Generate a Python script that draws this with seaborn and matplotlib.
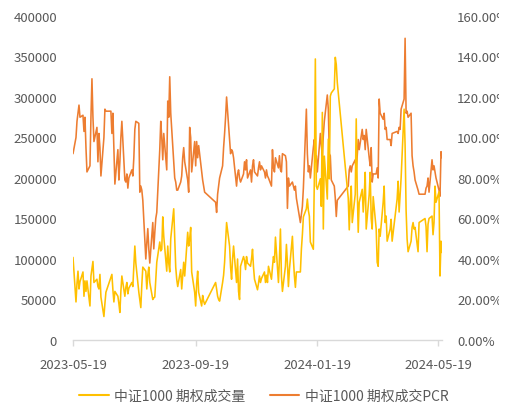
import numpy as np
import pandas as pd
import matplotlib
matplotlib.use("Agg")
import matplotlib.pyplot as plt
import matplotlib.dates as mdates
from matplotlib.ticker import FuncFormatter, MultipleLocator
from matplotlib.patches import Rectangle
from matplotlib.lines import Line2D
import seaborn as sns

# Exchange holidays inside the plotted window (weekdays with no trading)
holidays = [
    "2023-06-22", "2023-06-23",
    "2023-09-29", "2023-10-02", "2023-10-03", "2023-10-04", "2023-10-05", "2023-10-06",
    "2024-01-01",
    "2024-02-09", "2024-02-12", "2024-02-13", "2024-02-14", "2024-02-15", "2024-02-16",
    "2024-04-04", "2024-04-05",
    "2024-05-01", "2024-05-02", "2024-05-03",
]
start_date = "2023-05-19"
end_date = "2024-05-23"

# CSI 1000 option daily volume (contracts)
volume = [
    # 2023-05
    102000, 47000, 70000, 85000, 63000, 72000, 84000, 54000, 73000,
    # 2023-06
    60000, 73000, 42000, 79000, 88000, 97000, 71000, 75000, 66000, 63000,
    81000, 53000, 29000, 45000, 59000, 77000, 81000, 62000, 47000, 60000,
    # 2023-07
    54000, 45000, 34000, 60000, 79000, 54000, 65000, 71000, 57000, 64000,
    71000, 66000, 90000, 116000, 95000, 59000, 50000, 40000, 68000, 90000, 85000,
    # 2023-08
    63000, 80000, 90000, 71000, 50000, 52000, 53000, 75000, 96000, 121000,
    110000, 112000, 152000, 128000, 85000, 116000, 95000, 84000, 125000, 162000,
    124000, 90000, 75000,
    # 2023-09
    66000, 87000, 63000, 80000, 96000, 79000, 133000, 116000, 125000, 139000,
    84000, 59000, 42000, 70000, 85000, 59000, 42000, 55000, 48000, 44000,
    # 2023-10
    71000, 63000, 54000, 50000, 48000, 71000, 80000, 96000, 120000, 145000,
    116000, 90000, 75000, 100000, 116000, 71000, 100000,
    # 2023-11
    60000, 50000, 91000, 103000, 98000, 87000, 103000, 95000, 91000, 100000,
    112000, 90000, 75000, 62000, 70000, 79000, 71000, 76000, 84000, 71000, 80000, 71000,
    # 2023-12
    91000, 75000, 90000, 103000, 96000, 127000, 71000, 100000, 137000, 79000,
    60000, 91000, 118000, 95000, 66000, 87000, 128000, 100000, 79000, 65000, 84000,
    # 2024-01
    84000, 112000, 130000, 152000, 162000, 174000, 160000, 153000, 121000, 112000,
    200000, 347000, 190000, 186000, 199000, 165000, 281000, 137000, 227000, 174000,
    248000, 199000,
    # 2024-02
    301000, 305000, 310000, 349000, 340000, 318000, 175000, 136000, 170000, 190000,
    145000, 180000, 273000, 186000, 133000,
    # 2024-03
    170000, 186000, 158000, 177000, 207000, 137000, 180000, 207000, 150000, 137000,
    177000, 137000, 96000, 91000, 137000, 128000, 170000, 190000, 145000, 153000, 122000,
    # 2024-04
    137000, 149000, 122000, 174000, 196000, 158000, 180000, 200000, 285000, 240000,
    160000, 125000, 109000, 122000, 139000, 145000, 137000, 139000, 109000, 145000,
    # 2024-05
    150000, 140000, 109000, 143000, 150000, 153000, 130000, 145000, 190000, 170000,
    183000, 79000, 122000, 108000,
]

# CSI 1000 option put/call volume ratio (%)
pcr = [
    # 2023-05
    92, 100, 108, 112, 116, 110, 111, 103, 110,
    # 2023-06
    95, 83, 86, 110, 129, 110, 98, 105, 88, 102, 95, 81, 100, 114, 113, 113, 102, 112, 95, 77,
    # 2023-07
    94, 79, 88, 100, 108, 79, 78, 82, 75, 80, 84, 81, 90, 104, 108, 107, 73, 76, 74, 69, 40,
    # 2023-08
    48, 55, 45, 38, 58, 45, 53, 60, 63, 94, 108, 100, 89, 102, 84, 118, 110, 130, 112, 88,
    80, 78, 74,
    # 2023-09
    74, 78, 81, 90, 95, 88, 79, 73, 105, 100, 83, 98, 86, 98, 90, 96, 83, 79, 76, 73,
    # 2023-10
    68, 63, 72, 76, 80, 86, 95, 102, 110, 120, 99, 92, 94, 93, 90, 76, 82,
    # 2023-11
    84, 80, 78, 82, 88, 84, 89, 80, 84, 78, 86, 89, 83, 81, 85, 88, 84, 86, 83, 80, 84, 81,
    # 2023-12
    80, 76, 94, 85, 83, 90, 85, 91, 84, 83, 92, 91, 88, 65, 80, 76, 78, 76, 74, 76, 70,
    # 2024-01
    58, 62, 66, 75, 114, 92, 83, 86, 80, 95, 99, 88, 91, 83, 102, 96, 91, 101, 108, 121,
    114, 92,
    # 2024-02
    91, 79, 76, 70, 61, 69, 76, 84, 86, 83, 86, 89, 84, 91, 99,
    # 2024-03
    94, 104, 99, 101, 94, 104, 90, 86, 95, 78, 82, 82, 85, 80, 119, 112, 109, 112, 104, 105, 99,
    # 2024-04
    99, 96, 102, 103, 102, 105, 104, 114, 119, 149, 112, 113, 110, 112, 91, 86, 83, 79, 74, 72,
    # 2024-05
    72, 75, 76, 80, 73, 89, 84, 86, 83, 80, 74, 71, 93, 90,
]

tick_dates = ["2023-05-19", "2023-09-19", "2024-01-19", "2024-05-19"]
series_names = ["中证1000 期权成交量", "中证1000 期权成交PCR"]
colors = ["#FFC000", "#ED7D31"]

trade_days = pd.bdate_range(start_date, end_date)
trade_days = trade_days[~trade_days.isin(pd.to_datetime(holidays))]
df = pd.DataFrame({"date": trade_days, "volume": volume, "pcr": pcr})

sns.set_theme(style="white")
plt.rcParams["font.family"] = ["Noto Sans CJK SC", "DejaVu Sans"]
text_color = "#595959"

fig = plt.figure(figsize=(5.15, 4.10), dpi=100)
ax = fig.add_axes([73 / 515, 1 - 341 / 410, 369 / 515, 324 / 410])
ax2 = ax.twinx()

sns.lineplot(data=df, x="date", y="pcr", ax=ax2, color=colors[1], linewidth=1.15)
sns.lineplot(data=df, x="date", y="volume", ax=ax, color=colors[0], linewidth=1.15)
ax.set_zorder(ax2.get_zorder() + 1)
ax.patch.set_visible(False)

ax.set_xlim(pd.Timestamp(start_date), pd.Timestamp(end_date))
ax.set_ylim(0, 400000)
ax.yaxis.set_major_locator(MultipleLocator(50000))
ax.yaxis.set_major_formatter(FuncFormatter(lambda v, p: f"{int(v)}"))
ax2.set_ylim(0, 160)
ax2.yaxis.set_major_locator(MultipleLocator(20))
ax2.yaxis.set_major_formatter(FuncFormatter(lambda v, p: f"{v:.2f}%"))

ax.set_xticks(pd.to_datetime(tick_dates))
ax.xaxis.set_major_formatter(mdates.DateFormatter("%Y-%m-%d"))

for a in (ax, ax2):
    a.set_xlabel("")
    a.set_ylabel("")
    a.grid(False)
    for s in a.spines.values():
        s.set_visible(False)
ax.spines["bottom"].set_visible(True)
ax.spines["bottom"].set_color("#D9D9D9")
ax.spines["bottom"].set_linewidth(1.0)

ax.tick_params(axis="x", bottom=True, length=4, width=1, color="#D9D9D9",
               pad=9, labelsize=9.5, labelcolor=text_color)
ax.tick_params(axis="y", left=False, length=0, pad=11.5, labelsize=9.5, labelcolor=text_color)
ax2.tick_params(axis="y", right=False, length=0, pad=11, labelsize=9.5, labelcolor=text_color)

handles = [Line2D([0], [0], color=c, lw=1.5) for c in colors]
fig.legend(handles, series_names, loc="center", bbox_to_anchor=(264 / 515, 1 - 397 / 410),
           ncol=2, frameon=False, fontsize=10, labelcolor=text_color,
           handlelength=2.1, handletextpad=0.4, columnspacing=1.8)

# blank strip along the right margin
fig.add_artist(Rectangle((499 / 515, 0), 16 / 515, 1, transform=fig.transFigure,
                         facecolor="white", edgecolor="none", zorder=10))

fig.savefig("out.png", dpi=100, facecolor="white")
